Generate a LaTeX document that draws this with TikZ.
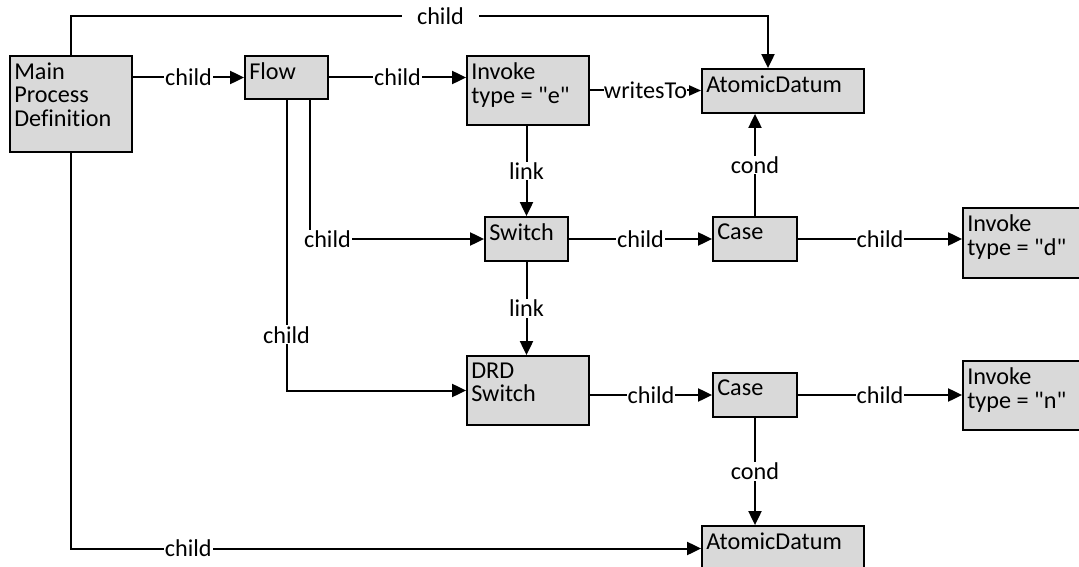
\documentclass[tikz,border=0pt]{standalone}
\usepackage{fontspec}
% a family of its own, so that " stays a straight quote
\newfontfamily\diagfont{Carlito}[Ligatures=CommonOff]
\usetikzlibrary{arrows.meta}
\definecolor{boxgray}{HTML}{D9D9D9}

\begin{document}
\begin{tikzpicture}[x=1pt, y=-1pt,
  font=\diagfont\fontsize{24.2}{23.5}\selectfont,
  box/.style={draw, line width=1.8pt, fill=boxgray, inner sep=0pt},
  boxtext/.style={anchor=north west, align=left, inner xsep=5pt, inner ysep=7.5pt},
  link/.style={line width=2pt, -{Triangle[length=14pt,width=13pt]}},
  smalltip/.style={-{Triangle[length=12pt,width=10pt]}},
  lbl/.style={fill=white, inner sep=1pt},
]
\useasboundingbox (0,0) rectangle (1079,567);
\clip (0,0) rectangle (1079,567);

% boxes
\node[box, minimum width=122pt, minimum height=96pt,
      label={[boxtext]north west:Main\\Process\\Definition}] (mpd) at (71,104) {};
\node[box, minimum width=83pt, minimum height=43pt,
      label={[boxtext]north west:Flow}] (flow) at (286.5,77.5) {};
\node[box, minimum width=122pt, minimum height=69pt,
      label={[boxtext]north west:Invoke\\type = "e"}] (inve) at (528,90.5) {};
\node[box, minimum width=162pt, minimum height=44pt,
      label={[boxtext]north west:AtomicDatum}] (ad1) at (783,91) {};
\node[box, minimum width=83pt, minimum height=44pt,
      label={[boxtext]north west:Switch}] (sw) at (526.5,239) {};
\node[box, minimum width=84pt, minimum height=44pt,
      label={[boxtext]north west:Case}] (case1) at (755,239) {};
\node[box, minimum width=122pt, minimum height=70pt,
      label={[boxtext]north west:Invoke\\type = "d"}] (invd) at (1024,243) {};
\node[box, minimum width=122pt, minimum height=69pt,
      label={[boxtext]north west:DRD\\Switch}] (drd) at (528,390.5) {};
\node[box, minimum width=84pt, minimum height=44pt,
      label={[boxtext]north west:Case}] (case2) at (755,395) {};
\node[box, minimum width=122pt, minimum height=69pt,
      label={[boxtext]north west:Invoke\\type = "n"}] (invn) at (1024,395.5) {};
\node[box, minimum width=162pt, minimum height=45pt,
      label={[boxtext]north west:AtomicDatum}] (ad2) at (783,548.5) {};

% helper points for the long top connector
\coordinate (rail) at (0,16);
\coordinate (ad1in) at ([xshift=-15pt]ad1.north);

% connectors
\draw[link] (mpd.north) -- (mpd.north |- rail)
  -| node[lbl, inner xsep=15pt, pos=0.265]{child} (ad1in);
\draw[link] (mpd.east |- flow.west) -- node[lbl]{child} (flow.west);
\draw[link] (flow.east) -- node[lbl]{child} (flow.east -| inve.west);
\draw[link, smalltip] (inve.east) -- node[lbl, inner xsep=0pt]{writesTo} (inve.east -| ad1.west);
\draw[link] (sw.north |- inve.south) -- node[lbl]{link} (sw.north);
\draw[link] ([xshift=23.5pt]flow.south) |- node[lbl, pos=0.55]{child} (sw.west);
\draw[link] (flow.south) |- node[lbl, pos=0.404]{child} (drd.west);
\draw[link] (sw.east) -- node[lbl]{child} (case1.west);
\draw[link] (case1.north) -- node[lbl]{cond} (case1.north |- ad1.south);
\draw[link] (case1.east) -- node[lbl]{child} (case1.east -| invd.west);
\draw[link] (sw.south) -- node[lbl]{link} (sw.south |- drd.north);
\draw[link] (case2.west -| drd.east) -- node[lbl]{child} (case2.west);
\draw[link] (case2.east) -- node[lbl]{child} (case2.east -| invn.west);
\draw[link] (case2.south) -- node[lbl]{cond} (case2.south |- ad2.north);
\draw[link] (mpd.south) |- node[lbl, pos=0.593]{child} (ad2.west);
\end{tikzpicture}
\end{document}
